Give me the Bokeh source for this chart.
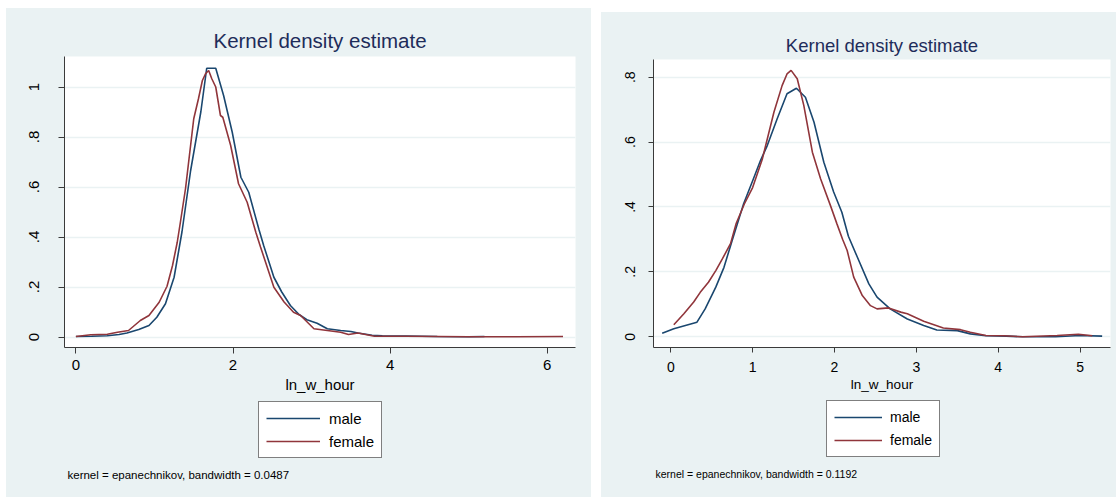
from bokeh.plotting import figure
from bokeh.layouts import row, column
from bokeh.models import Range1d, FixedTicker, Legend, LegendItem, Label
from bokeh.embed import file_html
from bokeh.resources import INLINE

# ---------------- data ----------------
TITLE = "Kernel density estimate"
X_LABEL = "ln_w_hour"
SERIES = ["male", "female"]

# left panel
left_male_x = [0.0, 0.2, 0.4, 0.55, 0.65, 0.8, 0.93, 1.03, 1.14, 1.25, 1.35, 1.46, 1.59, 1.665,
               1.78, 1.88, 1.99, 2.1, 2.2, 2.33, 2.39, 2.52, 2.62, 2.73, 2.84, 2.94, 3.07, 3.2,
               3.37, 3.5, 3.59, 3.77, 3.9, 4.2, 4.6, 5.0, 5.2]
left_male_y = [0.002, 0.003, 0.005, 0.01, 0.016, 0.03, 0.046, 0.079, 0.133, 0.239, 0.42, 0.665, 0.9, 1.075,
               1.075, 0.966, 0.819, 0.639, 0.579, 0.43, 0.366, 0.239, 0.18, 0.126, 0.09, 0.069, 0.055, 0.033,
               0.026, 0.022, 0.016, 0.007, 0.005, 0.004, 0.002, 0.001, 0.002]
left_female_x = [0.0, 0.19, 0.4, 0.53, 0.67, 0.82, 0.93, 1.06, 1.16, 1.23, 1.29, 1.33, 1.395, 1.5,
                 1.56, 1.61, 1.65, 1.69, 1.73, 1.78, 1.84, 1.87, 1.97, 2.07, 2.18, 2.29, 2.35, 2.52,
                 2.65, 2.77, 2.86, 3.03, 3.2, 3.37, 3.47, 3.59, 3.8, 4.2, 4.6, 5.0, 5.6, 6.2]
left_female_y = [0.002, 0.009, 0.011, 0.019, 0.026, 0.066, 0.086, 0.139, 0.203, 0.286, 0.379, 0.459, 0.593, 0.873,
                 0.953, 1.026, 1.053, 1.066, 1.033, 1.0, 0.886, 0.879, 0.766, 0.613, 0.539, 0.419, 0.36, 0.199,
                 0.14, 0.099, 0.086, 0.033, 0.026, 0.019, 0.01, 0.016, 0.003, 0.003, 0.002, 0.001, 0.001, 0.002]
left_note = "kernel = epanechnikov, bandwidth = 0.0487"
left_x_ticks = [0, 2, 4, 6]
left_y_ticks = [0, 0.2, 0.4, 0.6, 0.8, 1]
left_y_tick_labels = ["0", ".2", ".4", ".6", ".8", "1"]

# right panel
right_male_x = [-0.105, 0.037, 0.32, 0.42, 0.55, 0.65, 0.75, 0.89, 1.01, 1.096, 1.18, 1.3, 1.42, 1.535,
                1.645, 1.75, 1.87, 1.99, 2.09, 2.17, 2.28, 2.42, 2.52, 2.68, 2.89, 3.09, 3.25, 3.5,
                3.66, 3.85, 4.1, 4.3, 4.7, 5.0, 5.27]
right_male_y = [0.011, 0.025, 0.045, 0.086, 0.153, 0.214, 0.297, 0.41, 0.487, 0.543, 0.59, 0.672, 0.749, 0.766,
                0.738, 0.661, 0.538, 0.446, 0.384, 0.31, 0.245, 0.163, 0.122, 0.086, 0.055, 0.035, 0.021, 0.019,
                0.009, 0.003, 0.002, 0.0, 0.0, 0.004, 0.002]
right_female_x = [0.037, 0.16, 0.28, 0.36, 0.46, 0.55, 0.63, 0.73, 0.8, 0.9, 1.0, 1.12, 1.26, 1.36, 1.42,
                  1.47, 1.545, 1.625, 1.73, 1.83, 1.95, 2.03, 2.1, 2.155, 2.235, 2.34, 2.44, 2.52, 2.66,
                  2.81, 2.89, 3.09, 3.33, 3.54, 3.66, 3.85, 4.07, 4.3, 4.72, 4.98, 5.15]
right_female_y = [0.037, 0.071, 0.107, 0.137, 0.168, 0.204, 0.24, 0.287, 0.35, 0.41, 0.46, 0.549, 0.692, 0.774, 0.81,
                  0.821, 0.795, 0.713, 0.569, 0.487, 0.405, 0.348, 0.3, 0.266, 0.184, 0.127, 0.096, 0.086, 0.089,
                  0.076, 0.071, 0.048, 0.027, 0.022, 0.014, 0.004, 0.003, 0.0, 0.004, 0.008, 0.003]
right_note = "kernel = epanechnikov, bandwidth = 0.1192"
right_x_ticks = [0, 1, 2, 3, 4, 5]
right_y_ticks = [0, 0.2, 0.4, 0.6, 0.8]
right_y_tick_labels = ["0", ".2", ".4", ".6", ".8"]

# ---------------- style ----------------
BG = "#eaf2f3"
BLUE = "#1a476f"
RED = "#90353b"
TITLE_COLOR = "#1e2c5a"
AXIS_COLOR = "#3a3a3a"
FONT = "Liberation Sans"
LW = 1.6


def main_plot(mx, my, fx, fy, xt, yt, ytl, cfg):
    p = figure(width=cfg["w"], height=cfg["h"], output_backend="svg", toolbar_location=None,
               x_range=Range1d(*cfg["xr"]), y_range=Range1d(*cfg["yr"]),
               min_border_left=cfg["bl"], min_border_right=cfg["br"],
               min_border_top=cfg["bt"], min_border_bottom=cfg["bb"])
    p.outline_line_color = None
    p.background_fill_color = "white"
    p.border_fill_color = BG
    p.xgrid.visible = False
    p.ygrid.grid_line_color = BG
    p.ygrid.grid_line_width = 1.5
    p.ygrid.ticker = FixedTicker(ticks=yt)

    p.title.text = TITLE
    p.title.align = "center"
    p.title.text_font = FONT
    p.title.text_font_style = "normal"
    p.title.text_font_size = cfg["fs_title"]
    p.title.text_color = TITLE_COLOR
    p.title.standoff = cfg["tstand"]

    p.xaxis.ticker = FixedTicker(ticks=xt)
    p.yaxis.ticker = FixedTicker(ticks=yt)
    p.yaxis.major_label_overrides = {t: l for t, l in zip(yt, ytl)}
    p.yaxis.major_label_orientation = "vertical"
    for ax in (p.xaxis[0], p.yaxis[0]):
        ax.axis_line_color = AXIS_COLOR
        ax.major_tick_line_color = AXIS_COLOR
        ax.minor_tick_line_color = None
        ax.major_tick_out = cfg["tick"]
        ax.major_tick_in = 0
        ax.major_label_text_font = FONT
        ax.major_label_text_font_size = cfg["fs_tick"]
        ax.major_label_text_color = "black"
    p.yaxis.major_label_standoff = cfg["ystand"]
    p.xaxis.major_label_standoff = cfg["xstand"]
    p.xaxis.axis_label = X_LABEL
    p.xaxis.axis_label_text_font = FONT
    p.xaxis.axis_label_text_font_style = "normal"
    p.xaxis.axis_label_text_font_size = cfg["fs_axl"]
    p.xaxis.axis_label_text_color = "black"
    p.xaxis.axis_label_standoff = cfg["axlstand"]

    p.line(mx, my, line_color=BLUE, line_width=LW)
    p.line(fx, fy, line_color=RED, line_width=LW)
    return p


def foot_plot(mx, my, fx, fy, note, cfg):
    # legend + note strip; its view window is placed away from the data so only the legend shows
    w, h = cfg["w"], cfg["fh"]
    f = figure(width=w, height=h, output_backend="svg", toolbar_location=None,
               x_range=Range1d(100, 100 + w), y_range=Range1d(100, 100 + h),
               x_axis_type=None, y_axis_type=None,
               min_border_left=0, min_border_right=0, min_border_top=0, min_border_bottom=0)
    f.outline_line_color = None
    f.background_fill_color = None
    f.border_fill_color = BG
    f.grid.visible = False
    r1 = f.line(mx, my, line_color=BLUE, line_width=LW)
    r2 = f.line(fx, fy, line_color=RED, line_width=LW)
    leg = Legend(items=[LegendItem(label=SERIES[0], renderers=[r1]),
                        LegendItem(label=SERIES[1], renderers=[r2])],
                 location=cfg["leg_loc"], orientation="vertical")
    leg.border_line_color = "black"
    leg.border_line_width = 1
    leg.background_fill_color = "white"
    leg.background_fill_alpha = 1
    leg.label_text_font = FONT
    leg.label_text_font_size = cfg["fs_leg"]
    leg.label_text_color = "black"
    leg.glyph_width = cfg["gw"]
    leg.glyph_height = 18
    leg.label_height = 18
    leg.label_standoff = cfg["lstand"]
    leg.padding = 7
    leg.spacing = 5
    leg.margin = 0
    f.add_layout(leg)
    f.add_layout(Label(x=cfg["note_xy"][0], y=cfg["note_xy"][1], x_units="screen", y_units="screen",
                       text=note, text_font=FONT, text_font_size=cfg["fs_note"], text_color="black",
                       text_align="left", text_baseline="middle"))
    return f


left_cfg = dict(w=585, h=392, fh=97, bl=58, br=16, bt=48, bb=53,
                xr=(-0.145, 6.359), yr=(-0.042, 1.122), tick=6, ystand=20, xstand=6,
                fs_tick="15px", fs_axl="15px", axlstand=3, fs_title="20.5px", tstand=10,
                fs_note="11.5px", note_xy=(3, 23),
                fs_leg="15px", gw=54, lstand=9, leg_loc=(194, 39))
right_cfg = dict(w=515, h=388, fh=97, bl=52, br=6, bt=47, bb=53,
                 xr=(-0.211, 5.372), yr=(-0.033, 0.8545), tick=5, ystand=13, xstand=9,
                 fs_tick="14px", fs_axl="13.5px", axlstand=2, fs_title="18.5px", tstand=7,
                 fs_note="10.5px", note_xy=(2, 24),
                 fs_leg="14px", gw=48, lstand=8, leg_loc=(173, 40))

left = column(main_plot(left_male_x, left_male_y, left_female_x, left_female_y,
                        left_x_ticks, left_y_ticks, left_y_tick_labels, left_cfg),
              foot_plot(left_male_x, left_male_y, left_female_x, left_female_y, left_note, left_cfg),
              spacing=0, margin=(8, 0, 0, 6), styles={"background-color": BG})
right = column(main_plot(right_male_x, right_male_y, right_female_x, right_female_y,
                         right_x_ticks, right_y_ticks, right_y_tick_labels, right_cfg),
               foot_plot(right_male_x, right_male_y, right_female_x, right_female_y, right_note, right_cfg),
               spacing=0, margin=(12, 0, 0, 10), styles={"background-color": BG})

layout = row(left, right, spacing=0)
open("out.html", "w").write(file_html(layout, INLINE))
